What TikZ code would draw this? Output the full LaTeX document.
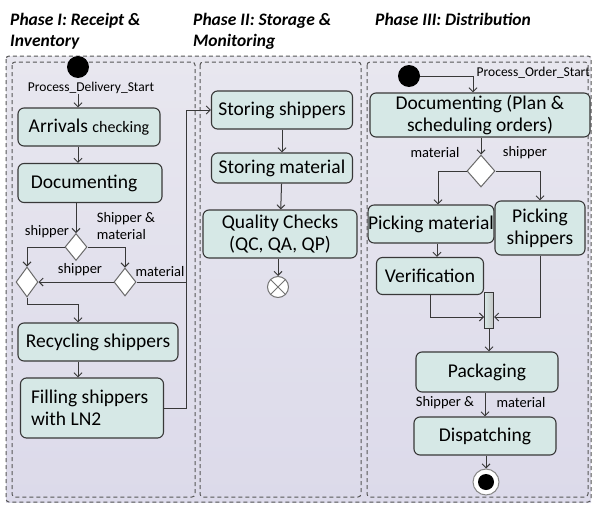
\documentclass[tikz,border=0pt]{standalone}
\usepackage{fontspec}
\setmainfont{Carlito}
\usetikzlibrary{arrows.meta,shapes.geometric,calc}
\definecolor{lanetop}{HTML}{E8E7EF}
\definecolor{lanebot}{HTML}{DCDAEA}
\definecolor{boxfill}{HTML}{D6E8E6}
\definecolor{ln}{HTML}{383838}
\begin{document}
\begin{tikzpicture}[x=1pt,y=-1pt,
  act/.style={draw=ln, line width=1.1pt, rounded corners=6pt, fill=boxfill, font=\fontsize{19.5}{22}\selectfont, inner sep=0pt, align=center},
  dec/.style={diamond, draw=ln!75, line width=1pt, fill=white, inner sep=0pt},
  lbl/.style={font=\fontsize{14.5}{17}\selectfont, inner sep=0.5pt},
  small/.style={font=\fontsize{13.5}{15}\selectfont, inner sep=0.5pt},
  flow/.style={draw=ln, line width=1pt, -{Straight Barb[length=4pt,width=8pt]}},
  plain/.style={draw=ln, line width=1pt},
  lane/.style={draw=ln!85, line width=1pt, dash pattern=on 4pt off 3pt, rounded corners=3pt},
  ttl/.style={font=\fontsize{17.5}{20}\selectfont\bfseries\itshape, anchor=base west, inner sep=0pt}
]
\fill[white] (0,0) rectangle (592,506);
\useasboundingbox (0,0) rectangle (592,506);

% lanes
\fill[top color=lanetop, bottom color=lanebot] (6,56) rectangle (591,502);
\draw[lane] (6,56) rectangle (591,502);
\draw[lane] (12,62) rectangle (195,497);
\draw[lane] (200,62) rectangle (361,497);
\draw[lane] (367,62) rectangle (588,497);

% titles
\node[ttl] (t1a) at (10,25) {Phase I: Receipt \&};
\node[ttl] (t1b) at (10,46) {Inventory};
\node[ttl] (t2a) at (193,25) {Phase II: Storage \&};
\node[ttl] (t2b) at (193,46) {Monitoring};
\node[ttl] (t3a) at (375,25) {Phase III: Distribution};

% ---------- Lane I ----------
\node[circle, fill=black, minimum size=22pt, inner sep=0pt] (s1) at (78,67) {};
\node[small] (pds) at (91,88) {Process\_Delivery\_Start};
\node[act, minimum width=142pt, minimum height=38pt] (arr) at (89,127)
  {Arrivals {\fontsize{16}{18}\selectfont checking}};
\node[act, minimum width=144pt, minimum height=39pt] (doc1) at (90,183) {Documenting\hspace{12pt}};
\node[dec, minimum width=22pt, minimum height=27pt] (d1) at (76,247) {};
\node[dec, minimum width=22pt, minimum height=30pt] (d2) at (27,282) {};
\node[dec, minimum width=22pt, minimum height=28pt] (d3) at (125,282) {};
\node[act, minimum width=160pt, minimum height=38pt] (rec) at (98,342) {Recycling shippers};
\node[act, minimum width=143pt, minimum height=60pt] (fil) at (92,408)
  {\parbox{122pt}{\raggedright Filling shippers\\with LN2}};

\node[lbl] (l1) at (47,232) {shipper};
\node[lbl, align=left] (l2) at (126,226) {Shipper \&\\material};
\node[lbl] (l3) at (80,270) {shipper};
\node[lbl] (l4) at (160,272) {material};

\draw[flow] (pds.south -| s1) -- (arr.north -| s1);
\draw[flow] (arr.south -| s1) -- (doc1.north -| s1);
\draw[flow] (doc1.south -| d1) -- (d1.north);
\draw[flow] (d1.west) -| (d2.north);
\draw[flow] (d1.east) -| (d3.north);
\draw[flow] (d3.west) -- (d2.east);
\coordinate (d2low) at (27,304);
\draw[flow] (d2.south) -- (d2low) -| (rec.north -| s1);
\draw[flow] (rec.south -| s1) -- (fil.north -| s1);

% ---------- Lane II ----------
\node[act, minimum width=141pt, minimum height=38pt] (ss) at (282,110) {Storing shippers};
\node[act, minimum width=141pt, minimum height=30pt] (sm) at (282,168) {Storing material};
\node[act, minimum width=154pt, minimum height=48pt] (qc) at (280,234) {Quality Checks\\(QC, QA, QP)};
\node[circle, draw=ln!70, fill=white, line width=1pt, minimum size=21pt, inner sep=0pt] (fin) at (278,287) {};
\draw[ln!70, line width=1pt] (fin.45) -- (fin.225) (fin.135) -- (fin.315);

\coordinate (jx) at (186,110);
\draw[flow] (d3.east) -| (jx) -- (ss.west);
\draw[plain] (fil.east) -| (d3.east -| jx);
\draw[flow] (ss) -- (sm);
\draw[flow] (sm) -- (qc);
\draw[flow] (qc.south -| fin) -- (fin.north);

% ---------- Lane III ----------
\node[circle, fill=black, minimum size=22pt, inner sep=0pt] (s3) at (409,76) {};
\node[small, anchor=west] (pos) at (476,73) {Process\_Order\_Start};
\node[act, minimum width=220pt, minimum height=44pt] (do2) at (480,115) {Documenting (Plan \&\\scheduling orders)};
\node[dec, minimum width=28pt, minimum height=32pt] (d4) at (481,171) {};
\node[lbl] (l5) at (435,153) {material};
\node[lbl] (l6) at (525,153) {shipper};
\node[act, minimum width=122pt, minimum height=38pt] (pm) at (431,224) {Picking material};
\node[act, minimum width=90pt, minimum height=54pt] (ps) at (540,228) {Picking\\shippers};
\node[act, minimum width=107pt, minimum height=37pt] (ver) at (430,276) {Verification};
\node[draw=ln, line width=1pt, minimum width=9pt, minimum height=36pt, inner sep=0pt,
  left color=boxfill, right color=ln!30] (bar) at (489,310) {};
\node[act, minimum width=142pt, minimum height=40pt] (pk) at (487,372) {Packaging};
\node[act, minimum width=142pt, minimum height=38pt] (dp) at (485,436) {Dispatching};
\node[lbl] (l7) at (445,403) {Shipper \&};
\node[lbl] (l8) at (521,403) {material};
\node[circle, draw=ln!60, fill=white, line width=1pt, minimum size=26pt, inner sep=0pt] (fe) at (486,482) {};
\node[circle, fill=black, minimum size=16pt, inner sep=0pt] (fe2) at (fe) {};

\draw[flow] (s3.east) -| ([xshift=-7pt]do2.north);
\draw[flow] (do2.south -| d4) -- (d4.north);
\draw[flow] (d4.west) -| ([xshift=7pt]pm.north);
\draw[flow] (d4.east) -| (ps.north);
\draw[flow] ([xshift=6pt]pm.south) -- ([xshift=6pt]pm.south |- ver.north);
\draw[flow] (ver.south) |- ([yshift=-7pt]bar.west);
\draw[flow] (ps.south) |- ([yshift=-7pt]bar.east);
\draw[flow] (bar.south) -- (bar.south |- pk.north);
\draw[flow] (pk.south -| dp) -- (dp.north);
\draw[flow] (dp.south -| fe) -- (fe.north);
\end{tikzpicture}
\end{document}
